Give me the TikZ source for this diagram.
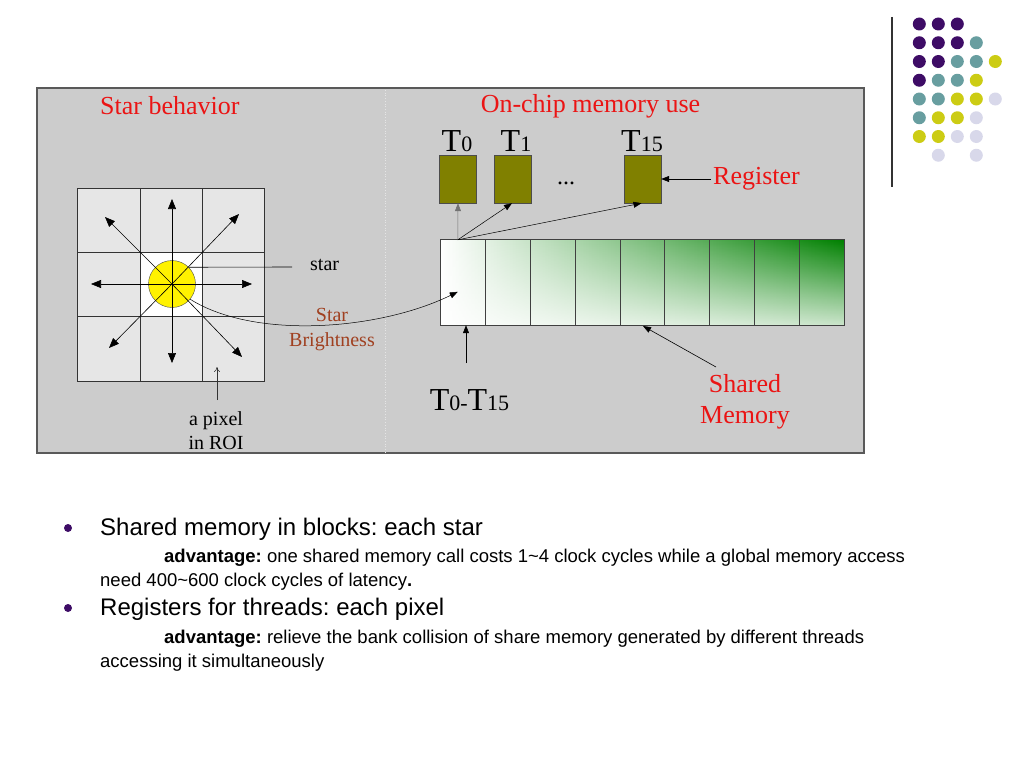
\documentclass[tikz,border=0pt]{standalone}
\usepackage{fontspec}
\setmainfont{Liberation Serif}
\newfontfamily\arialf{Liberation Sans}
\usetikzlibrary{arrows.meta,fadings,calc}
\definecolor{panelgray}{RGB}{204,204,204}
\definecolor{cellgray}{RGB}{230,230,230}
\definecolor{labred}{RGB}{235,20,20}
\definecolor{brightbrown}{RGB}{160,64,32}
\definecolor{olivebox}{RGB}{128,128,0}
\definecolor{dpurple}{RGB}{62,12,102}
\definecolor{dteal}{RGB}{104,158,160}
\definecolor{dyellow}{RGB}{204,204,20}
\definecolor{dlav}{RGB}{216,216,234}
\definecolor{memgreen}{RGB}{0,128,0}
\newcommand\fsz[1]{\fontsize{#1}{#1}\selectfont}
\frenchspacing
\tikzset{
  bigarr/.style={-{Triangle[length=10pt,width=8pt]},line width=0.6pt},
  smarr/.style={-{Triangle[length=8pt,width=6pt]},line width=0.5pt},
  regbox/.style={draw=black!70,fill=olivebox,minimum width=37pt,minimum height=48pt,inner sep=0pt},
  tlab/.style={font=\fsz{32},inner sep=0pt,anchor=base},
  redlab/.style={text=labred,font=\fsz{26},inner sep=0pt},
  serlab/.style={font=\fsz{20},inner sep=0pt,align=center},
  dotc/.style={circle,inner sep=0pt,minimum size=13pt},
  bul/.style={circle,fill=dpurple,inner sep=0pt,minimum size=8pt},
  bigtxt/.style={font=\arialf\fsz{24},inner sep=0pt,anchor=base west},
  smtxt/.style={font=\arialf\fsz{18.5},inner sep=0pt,anchor=base west},
}
\begin{document}
\begin{tikzpicture}[x=1pt,y=-1pt]
\useasboundingbox (0,0) rectangle (1024,768);
% decoration dots
\draw[line width=1.2pt,black!80] (892,17) -- (892,187);
\foreach \c/\r/\col in {0/0/dpurple,1/0/dpurple,2/0/dpurple,
  0/1/dpurple,1/1/dpurple,2/1/dpurple,3/1/dteal,
  0/2/dpurple,1/2/dpurple,2/2/dteal,3/2/dteal,4/2/dyellow,
  0/3/dpurple,1/3/dteal,2/3/dteal,3/3/dyellow,
  0/4/dteal,1/4/dteal,2/4/dyellow,3/4/dyellow,4/4/dlav,
  0/5/dteal,1/5/dyellow,2/5/dyellow,3/5/dlav,
  0/6/dyellow,1/6/dyellow,2/6/dlav,3/6/dlav,
  1/7/dlav,3/7/dlav}
  \node[dotc,fill=\col] (d\c\r) at ({919.3+19*\c},{24+18.75*\r}) {};
% panel
\node[draw=black!65,line width=1.5pt,fill=panelgray,minimum width=827pt,minimum height=365pt,inner sep=0pt] (panel) at (450.5,270.5) {};
\draw[white!80!gray,dotted,line width=0.7pt] (385,90) -- (385,452);
% grid
\fill[cellgray] (77,188) rectangle (264,381);
\fill[white] (140,252) rectangle (202,316);
\draw[black!80,line width=0.8pt] (77,188) rectangle (264,381);
\draw[black!80,line width=0.8pt] (140,188) -- (140,381) (202,188) -- (202,381)
  (77,252) -- (264,252) (77,316) -- (264,316);
\node[circle,draw=black!70,fill=yellow,minimum size=47pt,inner sep=0pt] (star) at (172,284) {};
\coordinate (sc) at (172,284);
\foreach \p in {(172,199),(172,363),(91,284),(252,284),(105,217),(239,214),(109,348),(242,357)}
  \draw[bigarr] (sc) -- \p;
\node[redlab,anchor=base west] (sb) at (100,114) {Star behavior};
\node[font=\fsz{20},inner sep=0pt,anchor=base west] (starlab) at (310,270) {star};
\draw[line width=0.6pt] (star.45) -- (292,267);
\node[serlab,text=brightbrown,anchor=base] (brt) at (332,346.7) {Star\\[5pt]Brightness};
\node[serlab,anchor=base] (pix) at (216,449) {a pixel\\[4pt]in ROI};
\coordinate (pixs) at (217,400);
\draw[-{To[length=5pt,width=6pt]},line width=0.5pt,black!80] (pixs) -- (217,367);
% on-chip
\node[redlab,anchor=base] (oc) at (590.5,112) {On-chip memory use};
\node[regbox] (r0) at (458,179) {};
\node[regbox] (r1) at (513,179) {};
\node[regbox] (r15) at (642.5,179) {};
\node[tlab] (t0) at (457,151.7) {T{\fsz{22}0}};
\node[tlab] (t1) at (516,151.7) {T{\fsz{22}1}};
\node[tlab] (t15) at (642,151.7) {T{\fsz{22}15}};
\node[font=\fsz{24},inner sep=0pt] (dots) at (566,183) {...};
\node[redlab,anchor=base west] (reglab) at (713,184) {Register};
\draw[smarr] (reglab.west|-r15.east) ++(-2,0) -- (r15.east);
% shared memory
\node[minimum width=403pt,minimum height=85pt,inner sep=0pt] (shm) at (642.5,282.5) {};
\shade[left color=white,right color=memgreen] (shm.north west) rectangle (shm.south east);
\fill[white,path fading=north,fill opacity=0.8] (shm.north west) rectangle (shm.south east);
\draw[black!75,line width=0.7pt] (shm.north west) rectangle (shm.south east);
\foreach \k in {1,...,8}
  \draw[black!75,line width=0.7pt] ($(shm.north west)+({44.8*\k},0)$) -- ($(shm.south west)+({44.8*\k},0)$);
\coordinate (src) at ($(shm.north west)+(17,0)$);
\draw[smarr,black!55] (src) -- (r0.south);
\draw[smarr] (src) -- ($(r1.south)+(-1,0)$);
\draw[smarr] (src) -- ($(r15.south)+(-1,0)$);
\coordinate (cend) at ($(shm.north west)+(17,52)$);
\draw[smarr] (star.-40) .. controls (255,340) and (380,330) .. (cend);
\node[tlab] (tt) at (469.5,410) {T{\fsz{22}0-}T{\fsz{22}15}};
\coordinate (ttop) at (466,363);
\draw[smarr] (ttop) -- (shm.south west -| ttop);
\node[redlab,align=center,anchor=base] (smlab) at (745,423) {Shared\\[5pt]Memory};
\coordinate (smc) at (716,367);
\draw[smarr,line width=0.6pt] (smc) -- (643,326);
% bullet text
\node[bul] (b1) at (68,528) {};
\node[bul] (b2) at (68,608) {};
\node[bigtxt] (l1) at (100,535) {Shared memory in blocks: each star};
\node[smtxt] (l2) at (164,562.5) {\textbf{advantage:} one shared memory call costs 1\textasciitilde4 clock cycles while a global memory access};
\node[smtxt] (l3) at (100,586.5) {need 400\textasciitilde600 clock cycles of latency\textbf{.}};
\node[bigtxt] (l4) at (100,615) {Registers for threads: each pixel};
\node[smtxt] (l5) at (164,643.5) {\textbf{advantage:} relieve the bank collision of share memory generated by different threads};
\node[smtxt] (l6) at (100,667.5) {accessing it simultaneously};
\end{tikzpicture}
\end{document}
